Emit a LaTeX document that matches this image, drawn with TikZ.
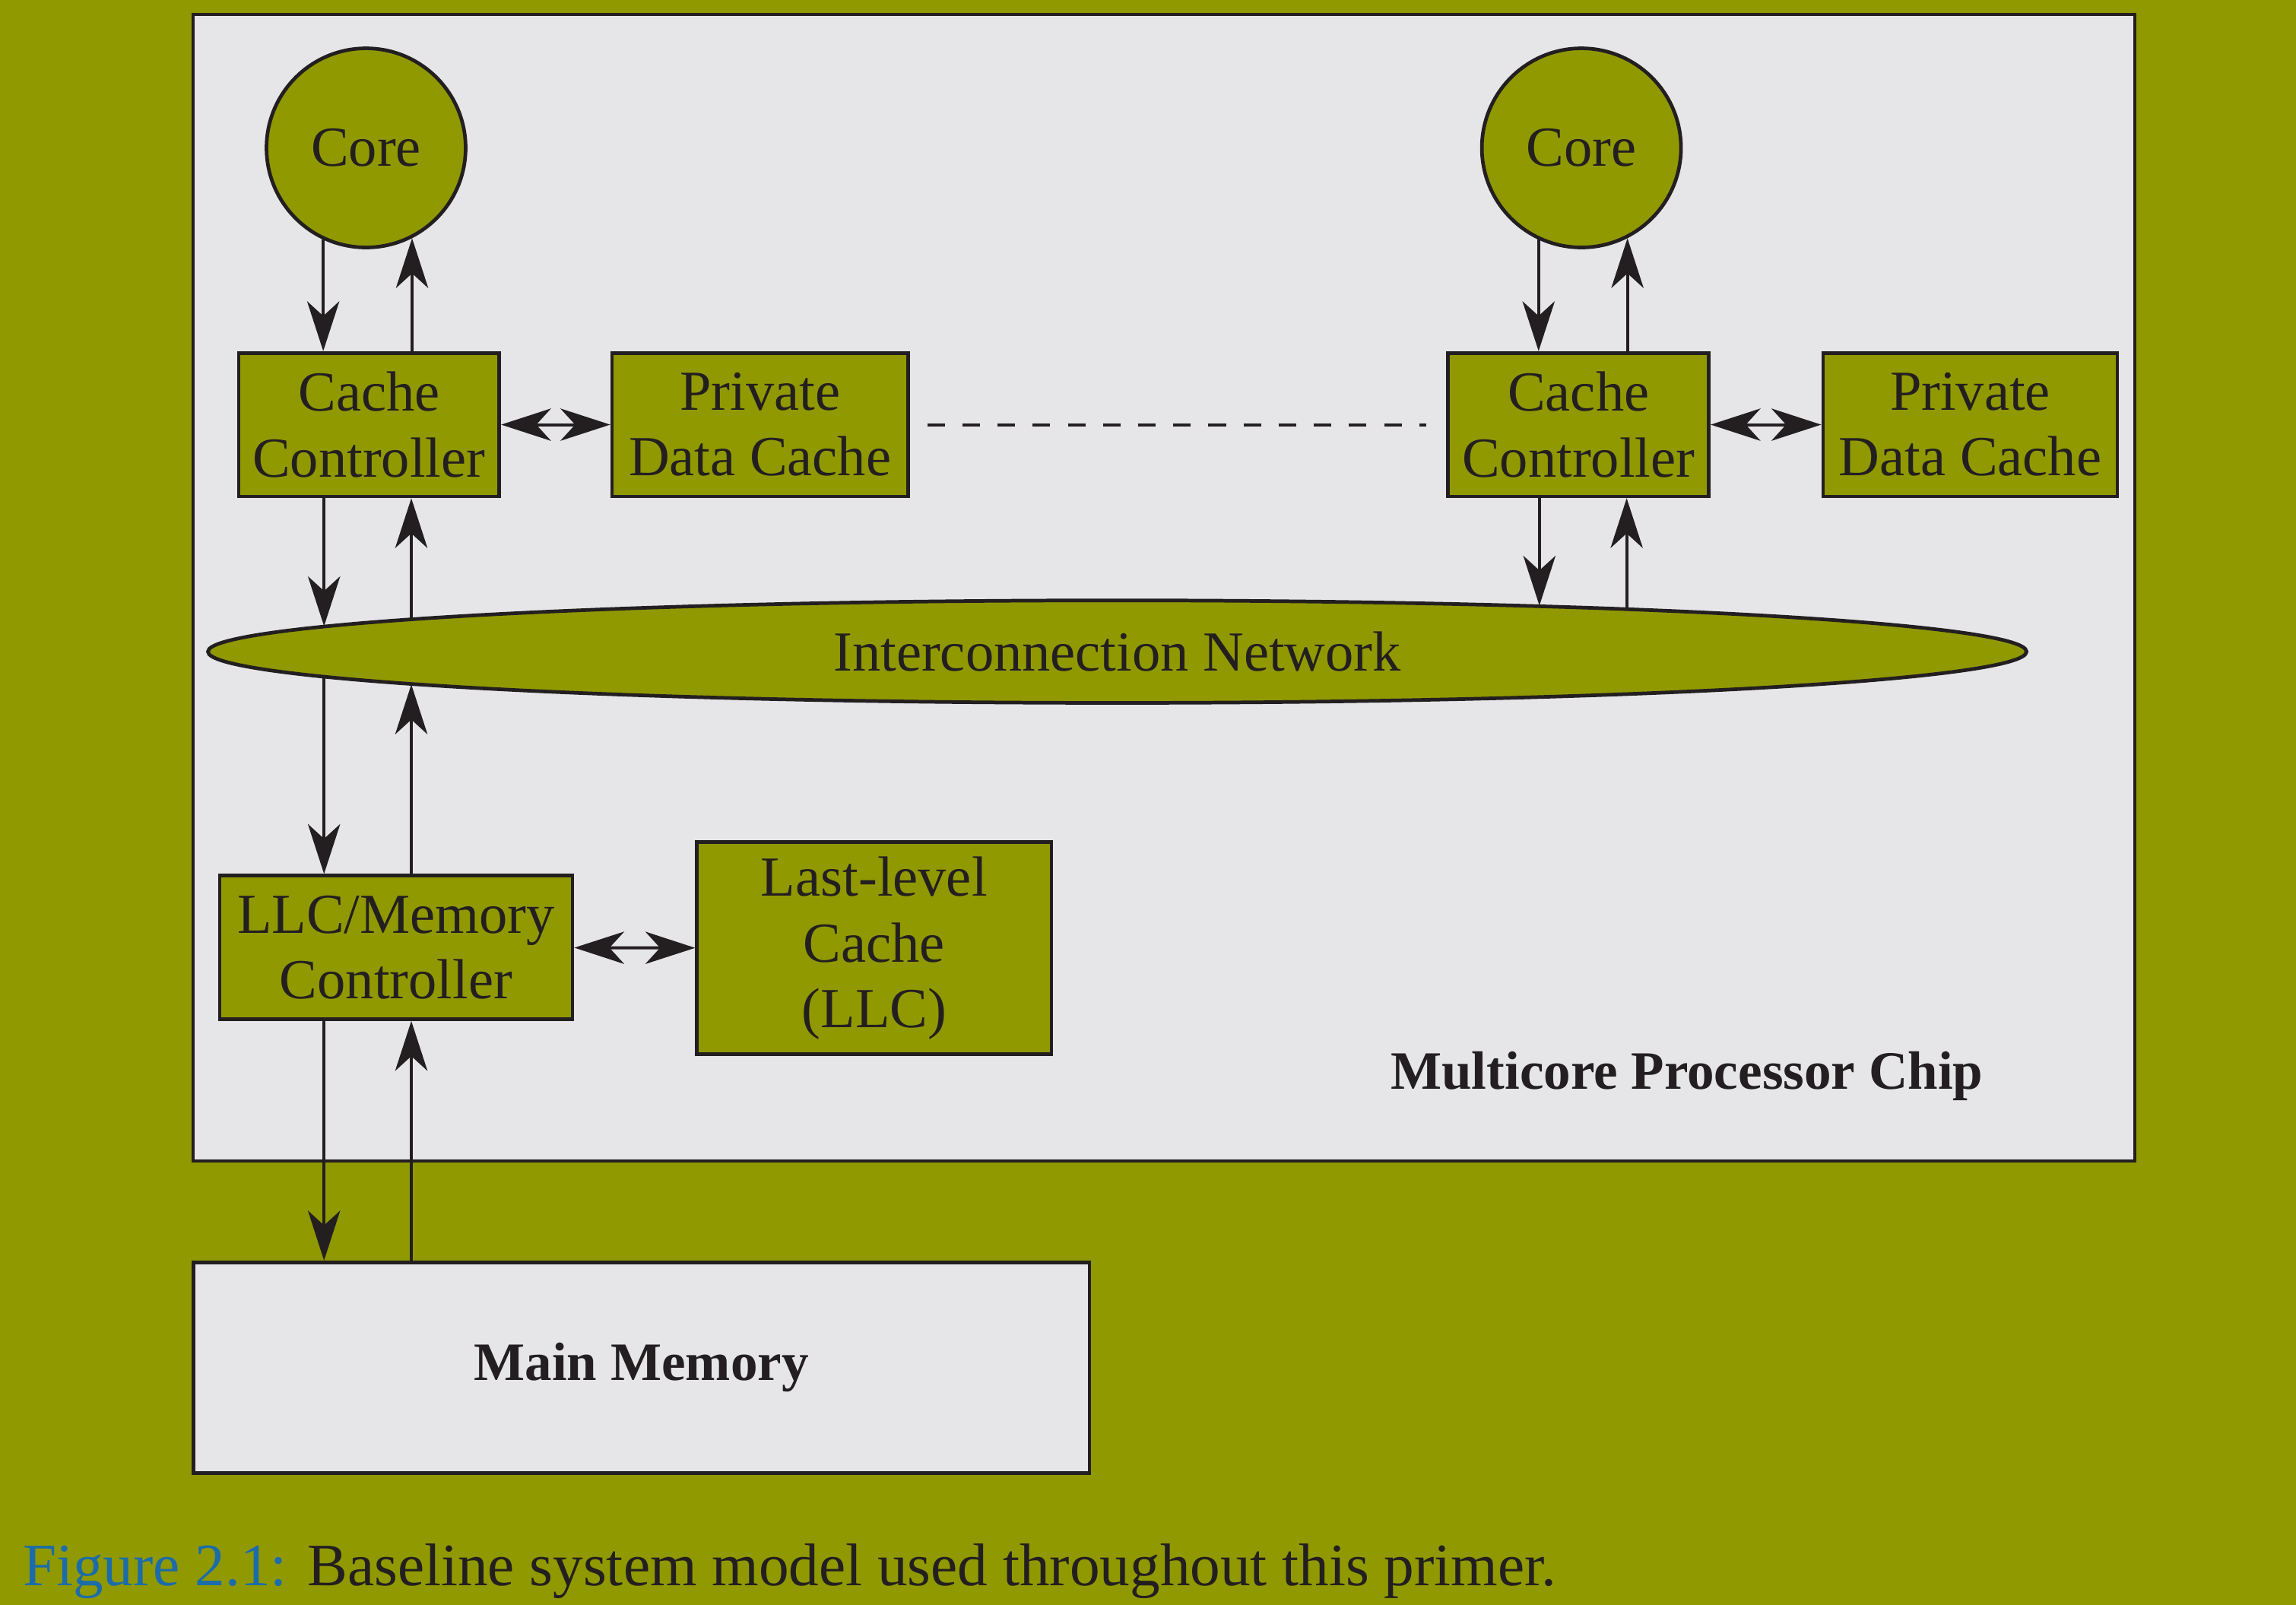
\documentclass[tikz,border=0pt]{standalone}
\usepackage{fontspec}
\setmainfont{Liberation Serif}
\usetikzlibrary{arrows.meta,shapes.geometric}
\definecolor{chipolive}{RGB}{145,153,0}
\definecolor{chipgray}{RGB}{230,230,232}
\definecolor{ink}{RGB}{35,31,32}
\definecolor{capblue}{RGB}{27,108,168}
\tikzset{
  >={Stealth[length=3.4mm,width=2.2mm,inset=1mm]},
  unit/.style={
    draw=ink, fill=chipolive, line width=0.7pt, inner sep=0pt,
    align=center, text=ink, font=\fontsize{11}{12.75}\selectfont,
  },
  box/.style={unit, rectangle, minimum height=9.8mm},
  core/.style={unit, circle, minimum size=13.6mm},
  link/.style={draw=ink, line width=0.6pt},
  chip label/.style={text=ink, font=\fontsize{10.5}{12}\selectfont\bfseries},
}

\begin{document}
\begin{tikzpicture}[x=0.1mm, y=-0.1mm]
    % background and chip outline
    \fill[chipolive] (0,0) rectangle (1568,1096);
    \useasboundingbox (0,0) rectangle (1568,1096);
    \draw[draw=ink, fill=chipgray, line width=0.6pt] (132,10) rectangle (1458,793);

    % cores, cache controllers and private caches
    \node[core] (core1) at (250,101) {Core};
    \node[core] (core2) at (1080,101) {Core};

    \node[box, minimum width=17.8mm] (cc1)  at (252,290)    {Cache\\Controller};
    \node[box, minimum width=20.2mm] (pdc1) at (519,290)    {Private\\Data Cache};
    \node[box, minimum width=17.8mm] (cc2)  at (1078,290)   {Cache\\Controller};
    \node[box, minimum width=20.1mm] (pdc2) at (1345.5,290) {Private\\Data Cache};

    % network
    \node[unit, ellipse, minimum width=124.2mm, minimum height=7mm] (net) at (763,445)
        {Interconnection Network};

    % ports on the network border (a,b left column, c,d right column)
    \foreach \p/\px in {a/221.3, b/280.9, c/1051.3, d/1110.9}{
        \pgfmathsetmacro\portdy{35.5*sqrt(1-((\px-763)/621.5)^2)}
        \coordinate (top\p) at (\px,445-\portdy);
        \coordinate (bot\p) at (\px,445+\portdy);
    }

    % last-level cache
    \node[box, minimum width=24.1mm] (llcc) at (270.5,647) {LLC/Memory\\Controller};
    \node[box, minimum width=24.2mm, minimum height=14.5mm] (llc) at (597,647.5)
        {Last-level\\Cache\\(LLC)};

    \node[chip label] (chip) at (1152,735) {Multicore Processor Chip};

    % main memory
    \node[draw=ink, fill=chipgray, line width=0.7pt, minimum width=61.2mm, minimum height=14.4mm,
          chip label] (mem) at (438,934) {Main Memory};

    % core <-> cache controller
    \foreach \i in {1,2}{
        \draw[link,->] (core\i.-115) -- (core\i.-115 |- cc\i.north);
        \draw[link,->] (cc\i.north -| core\i.-63) -- (core\i.-63);
    }

    % cache controller <-> network
    \draw[link,->] (cc1.south -| topa) -- (topa);
    \draw[link,->] (topb) -- (topb |- cc1.south);
    \draw[link,->] (cc2.south -| topc) -- (topc);
    \draw[link,->] (topd) -- (topd |- cc2.south);

    % network <-> LLC controller <-> memory
    \draw[link,->] (bota) -- (bota |- llcc.north);
    \draw[link,->] (llcc.north -| botb) -- (botb);
    \draw[link,->] (llcc.south -| bota) -- (mem.north -| bota);
    \draw[link,->] (mem.north -| botb) -- (llcc.south -| botb);

    % side links
    \draw[link,<->] (cc1) -- (pdc1);
    \draw[link,<->] (cc2) -- (pdc2);
    \draw[link,<->] (llcc) -- (llc);
    \draw[link, dash pattern=on 1.2mm off 1.2mm, shorten <=1.2mm, shorten >=1.4mm] (pdc1) -- (cc2);

    % caption
    \node[anchor=base west, inner sep=0pt, text=ink, font=\fontsize{11.7}{14}\selectfont] (caption)
        at (15,1083) {\textcolor{capblue}{Figure 2.1:} Baseline system model used throughout this primer.};
\end{tikzpicture}
\end{document}
